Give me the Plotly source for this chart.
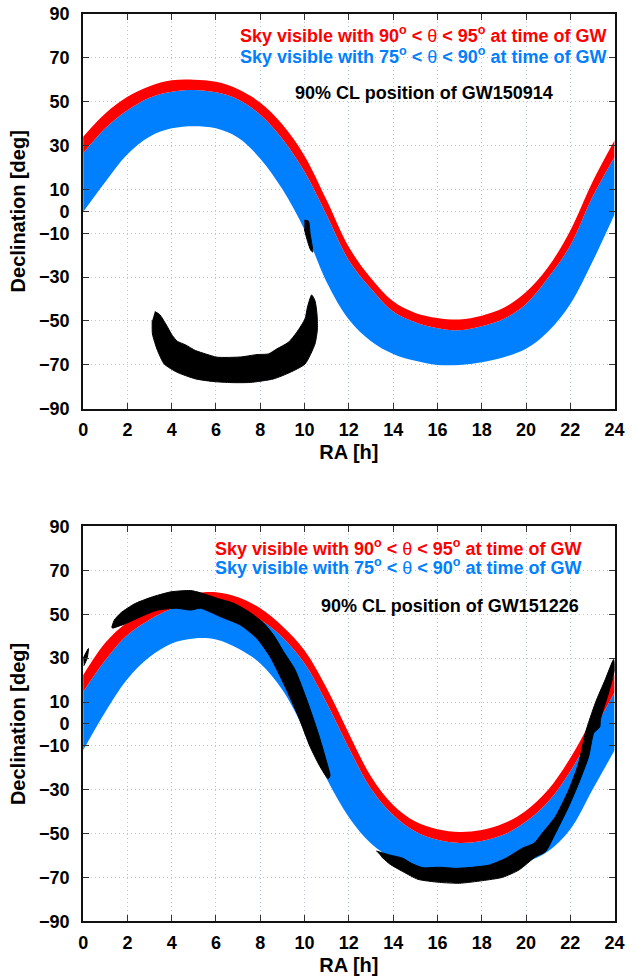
import plotly.graph_objects as go

RA_HOURS = list(range(25))

# Upper panel: GW150914
P1_RED_TOP = [34, 44.6, 52.2, 57, 59.7, 60, 59, 55.6, 49.5, 39.5, 25.2, 5, -16.3, -30.5, -41, -46.3, -48.6, -49.3, -47.6, -44, -36.8, -25.4, -8.7, 13.4, 32.4]
P1_BLUE_TOP = [26.4, 37.8, 46, 51.8, 54.5, 55.3, 54.2, 51, 44, 33, 18, -1.8, -22.4, -35.3, -45.7, -50.6, -53.3, -54.2, -52.4, -49, -42.2, -30.3, -15.6, 6.5, 24.8]
P1_BLUE_BOTTOM = [-0.3, 13.4, 26, 34, 37.8, 38.8, 37.8, 33.5, 24, 10, -8.5, -32.3, -49.3, -59.2, -65, -68.1, -70, -70, -68.8, -66.5, -62.7, -54.8, -42.2, -23, -1.4]

P1_CRESCENT_RA = [3.24, 3.46, 3.73, 4.03, 4.25, 4.63, 5.08, 5.53, 6.05, 7.10, 7.85, 8.37, 8.75, 9.27, 9.65, 10.02, 10.13, 10.32, 10.47, 10.56, 10.58, 10.47, 10.02, 9.35, 8.60, 7.55, 6.80, 5.98, 5.08, 4.25, 3.66, 3.36, 3.13, 3.12]
P1_CRESCENT_DEC = [-45.7, -47.1, -51.3, -56.6, -59.2, -60.9, -63.5, -65.0, -66.5, -66.4, -65.3, -65.0, -62.7, -59.7, -55.1, -49.0, -43.7, -38.1, -40.7, -46.7, -53.6, -60.5, -69.6, -73.4, -76.4, -78.0, -78.1, -77.7, -76.4, -73.4, -69.6, -63.5, -55.9, -49.8]
P1_SLIVER_RA = [9.99, 10.17, 10.25, 10.37, 10.28, 10.10, 9.99]
P1_SLIVER_DEC = [-4.1, -4.4, -10.2, -18.6, -17.8, -12.5, -8.1]

# Lower panel: GW151226
P2_RED_TOP = [22.2, 37, 46.5, 53, 57.5, 59.5, 60, 57.7, 52.7, 44.5, 33.5, 16.3, -4.3, -23.9, -36.9, -44.5, -48, -49.2, -48.3, -45.3, -39.5, -30, -15.5, 2.7, 22.5]
P2_BLUE_TOP = [14.6, 29, 40.5, 47.5, 52.5, 55, 55, 52.5, 47.5, 39.5, 27.5, 9.5, -11, -29.5, -41.5, -49, -52.8, -54.2, -53.3, -50.4, -44.5, -35.5, -21.5, -4, 14.4]
P2_BLUE_BOTTOM = [-12, 5.5, 20.5, 30.5, 36.7, 39, 38.5, 34.4, 27.6, 15.5, -3, -25, -42.5, -54.5, -61.5, -65.5, -67.5, -68.5, -68, -66.5, -63, -58, -48, -30, -12]

P2_ARC_A_RA = [1.29, 1.41, 1.71, 2.31, 3.06, 3.96, 4.85, 5.30, 6.05, 6.80, 7.48, 8.15, 8.60, 9.05, 9.57, 10.10, 10.62, 11.07, 11.15, 11.07, 10.70, 10.25, 9.72, 9.12, 8.45, 7.85, 7.10, 6.20, 5.30, 4.85, 4.25, 3.36, 2.61, 1.86, 1.33]
P2_ARC_A_DEC = [44.0, 47.4, 50.7, 54.7, 57.7, 60.2, 60.8, 59.8, 57.3, 55.0, 51.2, 46.0, 40.5, 33.0, 24.7, 11.0, -4.3, -20.0, -23.4, -25.0, -19.5, -10.4, 3.4, 17.0, 30.5, 39.0, 45.1, 48.9, 52.7, 51.9, 52.7, 51.9, 48.9, 45.5, 43.6]
P2_ARC_B_RA = [13.24, 13.84, 14.44, 14.82, 15.34, 16.09, 16.84, 17.59, 18.34, 19.09, 19.84, 20.36, 20.73, 21.33, 21.93, 22.38, 22.68, 23.13, 23.58, 23.96, 24.0, 23.73, 23.36, 23.33, 23.06, 22.83, 22.38, 21.93, 21.33, 20.88, 20.43, 19.69, 18.94, 18.04, 16.99, 16.09, 15.12, 14.44, 13.84, 13.47]
P2_ARC_B_DEC = [-57.9, -59.7, -61.2, -63.5, -65.5, -65.3, -65.8, -65.3, -64.3, -61.2, -56.6, -54.4, -49.8, -42.2, -30.0, -17.8, -4.1, 9.6, 20.3, 29.4, 24.8, 14.2, 2.0, -1.4, -4.1, -14.8, -27.0, -37.6, -49.8, -58.2, -60.5, -66.5, -69.9, -71.4, -72.6, -72.2, -70.8, -67.3, -63.8, -60.5]
P2_TIP_RA = [0.0, 0.24, 0.18, 0.03]
P2_TIP_DEC = [29.9, 34.4, 29.9, 26.5]

X_TICKS = list(range(0, 25, 2))
Y_TICKS = [-90, -70, -50, -30, -10, 0, 10, 30, 50, 70, 90]

RED = "#ff0000"
BLUE = "#0080ff"
W, H = 641, 976
GRID = "#b4c6de"
FONT = "Liberation Sans"


def band(fig, lower, upper, color, xa, ya):
    fig.add_trace(go.Scatter(x=RA_HOURS, y=lower, mode="lines", line=dict(width=0, shape="spline", smoothing=1, color=color),
                             xaxis=xa, yaxis=ya, showlegend=False, hoverinfo="skip"))
    fig.add_trace(go.Scatter(x=RA_HOURS, y=upper, mode="lines", fill="tonexty", fillcolor=color,
                             line=dict(width=0, shape="spline", smoothing=1, color=color),
                             xaxis=xa, yaxis=ya, showlegend=False, hoverinfo="skip"))


def blob(fig, ra, dec, xa, ya):
    fig.add_trace(go.Scatter(x=ra, y=dec, mode="lines", fill="toself", fillcolor="black",
                             line=dict(width=1, color="black", shape="spline", smoothing=0.6), xaxis=xa, yaxis=ya,
                             showlegend=False, hoverinfo="skip"))


fig = go.Figure()
band(fig, P1_BLUE_BOTTOM, P1_BLUE_TOP, BLUE, "x", "y")
band(fig, P1_BLUE_TOP, P1_RED_TOP, RED, "x", "y")
blob(fig, P1_CRESCENT_RA, P1_CRESCENT_DEC, "x", "y")
blob(fig, P1_SLIVER_RA, P1_SLIVER_DEC, "x", "y")
band(fig, P2_BLUE_BOTTOM, P2_BLUE_TOP, BLUE, "x2", "y2")
band(fig, P2_BLUE_TOP, P2_RED_TOP, RED, "x2", "y2")
blob(fig, P2_ARC_A_RA, P2_ARC_A_DEC, "x2", "y2")
blob(fig, P2_ARC_B_RA, P2_ARC_B_DEC, "x2", "y2")
blob(fig, P2_TIP_RA, P2_TIP_DEC, "x2", "y2")

xdom = [80 / W, 624.2 / W]
axis_common = dict(showline=True, linecolor="#111111", linewidth=2, mirror="ticks", ticks="inside", ticklen=6,
                   tickcolor="#333333", tickwidth=1, showgrid=True, gridcolor=GRID, gridwidth=1, griddash="1px,3px",
                   zeroline=False, tickfont=dict(family=FONT, size=18, color="black", weight="bold"))


def xaxis(anchor):
    return dict(axis_common, domain=xdom, range=[0, 24], tickvals=X_TICKS, anchor=anchor, ticklabelstandoff=4,
                title=dict(text="<b>RA [h]</b>", font=dict(family=FONT, size=20, color="black"), standoff=6))


def yaxis(anchor, top, bottom):
    return dict(axis_common, domain=[1 - bottom / H, 1 - top / H], range=[-90, 90], tickvals=Y_TICKS, anchor=anchor,
                ticklabelstandoff=8,
                title=dict(text="<b>Declination [deg]</b>", font=dict(family=FONT, size=20, color="black"), standoff=8))


def label(text, right_px, y_px, color, size=18):
    return dict(text=f"<b>{text}</b>", xref="paper", yref="paper", x=right_px / W, y=1 - y_px / H,
                xanchor="right", yanchor="middle", showarrow=False, font=dict(family=FONT, size=size, color=color))


TH = '<span style="font-weight:normal">θ</span>'
RED_TXT = f"Sky visible with 90<sup>o</sup> &lt; {TH} &lt; 95<sup>o</sup> at time of GW"
BLUE_TXT = f"Sky visible with 75<sup>o</sup> &lt; {TH} &lt; 90<sup>o</sup> at time of GW"

fig.update_layout(
    width=W, height=H, autosize=False, margin=dict(l=0, r=0, t=0, b=0),
    paper_bgcolor="white", plot_bgcolor="white", showlegend=False,
    xaxis=xaxis("y"), yaxis=yaxis("x", 3.9, 407.1),
    xaxis2=xaxis("y2"), yaxis2=yaxis("x2", 527.3, 930.5),
    annotations=[
        label(RED_TXT, 618, 25, RED),
        label(BLUE_TXT, 618, 46, BLUE),
        label("90% CL position of GW150914", 563, 85, "black"),
        label(RED_TXT, 592.5, 548.5, RED),
        label(BLUE_TXT, 592.5, 568.5, BLUE),
        label("90% CL position of GW151226", 590, 608, "black"),
    ],
)

fig.write_html("out.html", config={"displayModeBar": False}, post_script="document.body.style.margin='0';")
